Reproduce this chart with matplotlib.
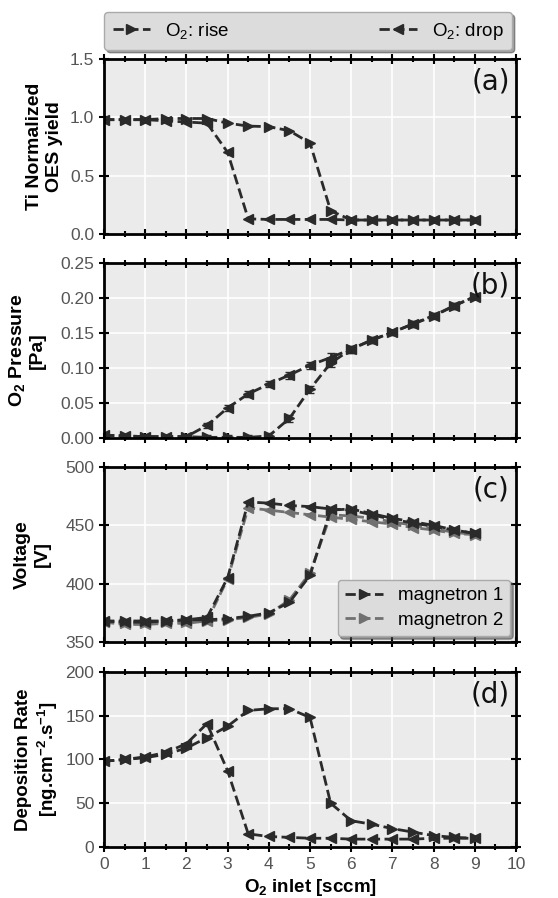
# Reactive sputtering hysteresis: OES yield, O2 pressure, voltage, deposition rate
import numpy as np
import matplotlib.pyplot as plt
from matplotlib.lines import Line2D
from matplotlib.ticker import MultipleLocator

plt.rcParams['font.family'] = ['Liberation Sans', 'DejaVu Sans']
plt.rcParams['mathtext.default'] = 'regular'

o2_flow = [0, 0.5, 1, 1.5, 2, 2.5, 3, 3.5, 4, 4.5, 5, 5.5, 6, 6.5, 7, 7.5, 8, 8.5, 9]

oes_rise = [0.98, 0.98, 0.98, 0.99, 0.99, 0.99, 0.95, 0.925, 0.92, 0.885, 0.78, 0.20,
            0.12, 0.12, 0.12, 0.12, 0.12, 0.12, 0.12]
oes_drop = [0.98, 0.98, 0.98, 0.97, 0.96, 0.95, 0.70, 0.13, 0.125, 0.125, 0.125, 0.125,
            0.12, 0.12, 0.12, 0.12, 0.12, 0.12, 0.12]

p_rise = [0.004, 0.003, 0.002, 0.002, 0.002, 0.001, 0.001, 0.001, 0.003, 0.028, 0.070,
          0.107, 0.127, 0.140, 0.151, 0.163, 0.175, 0.189, 0.202]
p_drop = [0.004, 0.003, 0.002, 0.002, 0.002, 0.018, 0.043, 0.063, 0.077, 0.090, 0.104,
          0.115, 0.127, 0.140, 0.151, 0.163, 0.174, 0.189, 0.202]
p_err = [0.003, 0.003, 0.003, 0.003, 0.003, 0.004, 0.004, 0.004, 0.004, 0.005, 0.005,
         0.006, 0.005, 0.004, 0.004, 0.004, 0.004, 0.004, 0.004]

v1_rise = [368, 368, 368, 368, 369, 369, 370, 372, 375, 384, 407, 463, 464, 460, 456, 453, 450, 446, 443]
v1_drop = [368, 367, 367, 368, 369, 371, 405, 470, 469, 467, 466, 464, 463, 459, 455, 452, 449, 446, 443]
v2_rise = [368, 366, 366, 367, 367, 368, 369, 371, 374, 386, 409, 459, 458, 456, 453, 450, 447, 444, 442]
v2_drop = [367, 365, 365, 366, 366, 368, 404, 465, 463, 461, 459, 457, 455, 453, 451, 448, 446, 443, 442]

dep_rise = [98, 100, 102, 106, 113, 125, 138, 156, 158, 158, 148, 50, 30, 26, 21, 17, 13, 11, 10]
dep_drop = [98, 100, 103, 108, 118, 141, 87, 15, 12, 11, 10, 10, 9, 9, 9, 9, 10, 10, 10]

dark = '#2a2a2a'
grey = '#707070'
line_kw = dict(ls='--', lw=2, ms=6.5)

fig = plt.figure(figsize=(5.58, 8.98), dpi=100)
left, width, h = 0.1864, 0.7384, 0.1949
bottoms = [0.7394, 0.5122, 0.2851, 0.0568]
axes = [fig.add_axes([left, b, width, h]) for b in bottoms]

def style(ax, letter, labx):
    ax.set_facecolor('#ebebeb')
    ax.set_xlim(0, 10)
    ax.xaxis.set_major_locator(MultipleLocator(1))
    ax.xaxis.set_minor_locator(MultipleLocator(0.5))
    ax.grid(True, which='major', color='white', lw=1.2)
    ax.set_axisbelow(True)
    for s in ax.spines.values():
        s.set_linewidth(2)
    ax.tick_params(which='both', direction='inout', top=True, right=True,
                   width=1.5, labelsize=12.5, labelcolor='#555555')
    ax.tick_params(which='major', length=7)
    ax.tick_params(which='minor', length=5)
    ax.text(0.985, 0.95, letter, transform=ax.transAxes, ha='right', va='top',
            fontsize=20, family='DejaVu Sans', color='#111111')
    ax.yaxis.set_label_coords(labx, 0.5)

ax = axes[0]
ax.plot(o2_flow, oes_rise, marker='>', color=dark, **line_kw)
ax.plot(o2_flow, oes_drop, marker='<', color=dark, **line_kw)
ax.set_ylim(0, 1.5)
ax.set_yticks([0, 0.5, 1.0, 1.5])
ax.set_ylabel('Ti Normalized\nOES yield', fontsize=14, fontweight='bold')
style(ax, '(a)', -0.1)

ax = axes[1]
ax.errorbar(o2_flow, p_rise, yerr=p_err, marker='>', color=dark, capsize=3, **line_kw)
ax.errorbar(o2_flow, p_drop, yerr=p_err, marker='<', color=dark, capsize=3, **line_kw)
ax.set_ylim(0, 0.25)
ax.set_yticks([0, 0.05, 0.10, 0.15, 0.20, 0.25])
ax.set_yticklabels(['0.00', '0.05', '0.10', '0.15', '0.20', '0.25'])
ax.set_ylabel('O$_2$ Pressure\n[Pa]', fontsize=14, fontweight='bold')
style(ax, '(b)', -0.14)

ax = axes[2]
ax.plot(o2_flow, v2_rise, marker='>', color=grey, **line_kw)
ax.plot(o2_flow, v2_drop, marker='<', color=grey, **line_kw)
ax.plot(o2_flow, v1_rise, marker='>', color=dark, **line_kw)
ax.plot(o2_flow, v1_drop, marker='<', color=dark, **line_kw)
ax.set_ylim(350, 500)
ax.set_yticks([350, 400, 450, 500])
ax.set_ylabel('Voltage\n[V]', fontsize=14, fontweight='bold')
style(ax, '(c)', -0.13)
mag_handles = [Line2D([], [], marker='>', color=dark, **line_kw),
               Line2D([], [], marker='>', color=grey, **line_kw)]
ax.legend(mag_handles, ['magnetron 1', 'magnetron 2'], loc='lower right', fontsize=13.5,
          shadow=True, facecolor='#dcdcdc', edgecolor='#aaaaaa', framealpha=1,
          borderaxespad=0.3, labelspacing=0.4)

ax = axes[3]
ax.plot(o2_flow, dep_rise, marker='>', color=dark, **line_kw)
ax.plot(o2_flow, dep_drop, marker='<', color=dark, **line_kw)
ax.set_ylim(0, 200)
ax.set_yticks([0, 50, 100, 150, 200])
ax.set_ylabel('Deposition Rate\n[ng.cm$^{-2}$.s$^{-1}$]', fontsize=13.5, fontweight='bold')
ax.set_xlabel('O$_2$ inlet [sccm]', fontsize=13.5, fontweight='bold')
style(ax, '(d)', -0.107)

for ax in axes[:3]:
    ax.tick_params(labelbottom=False)

top_handles = [Line2D([], [], marker='>', color=dark, **line_kw),
               Line2D([], [], marker='<', color=dark, **line_kw)]
fig.legend(top_handles, ['O$_2$: rise', 'O$_2$: drop'], loc='upper center',
           bbox_to_anchor=(0.552, 0.997), ncol=2, fontsize=13.5, columnspacing=8.0,
           borderpad=0.45, shadow=True, facecolor='#dcdcdc', edgecolor='#aaaaaa',
           framealpha=1)

fig.savefig('out.png', dpi=100)
